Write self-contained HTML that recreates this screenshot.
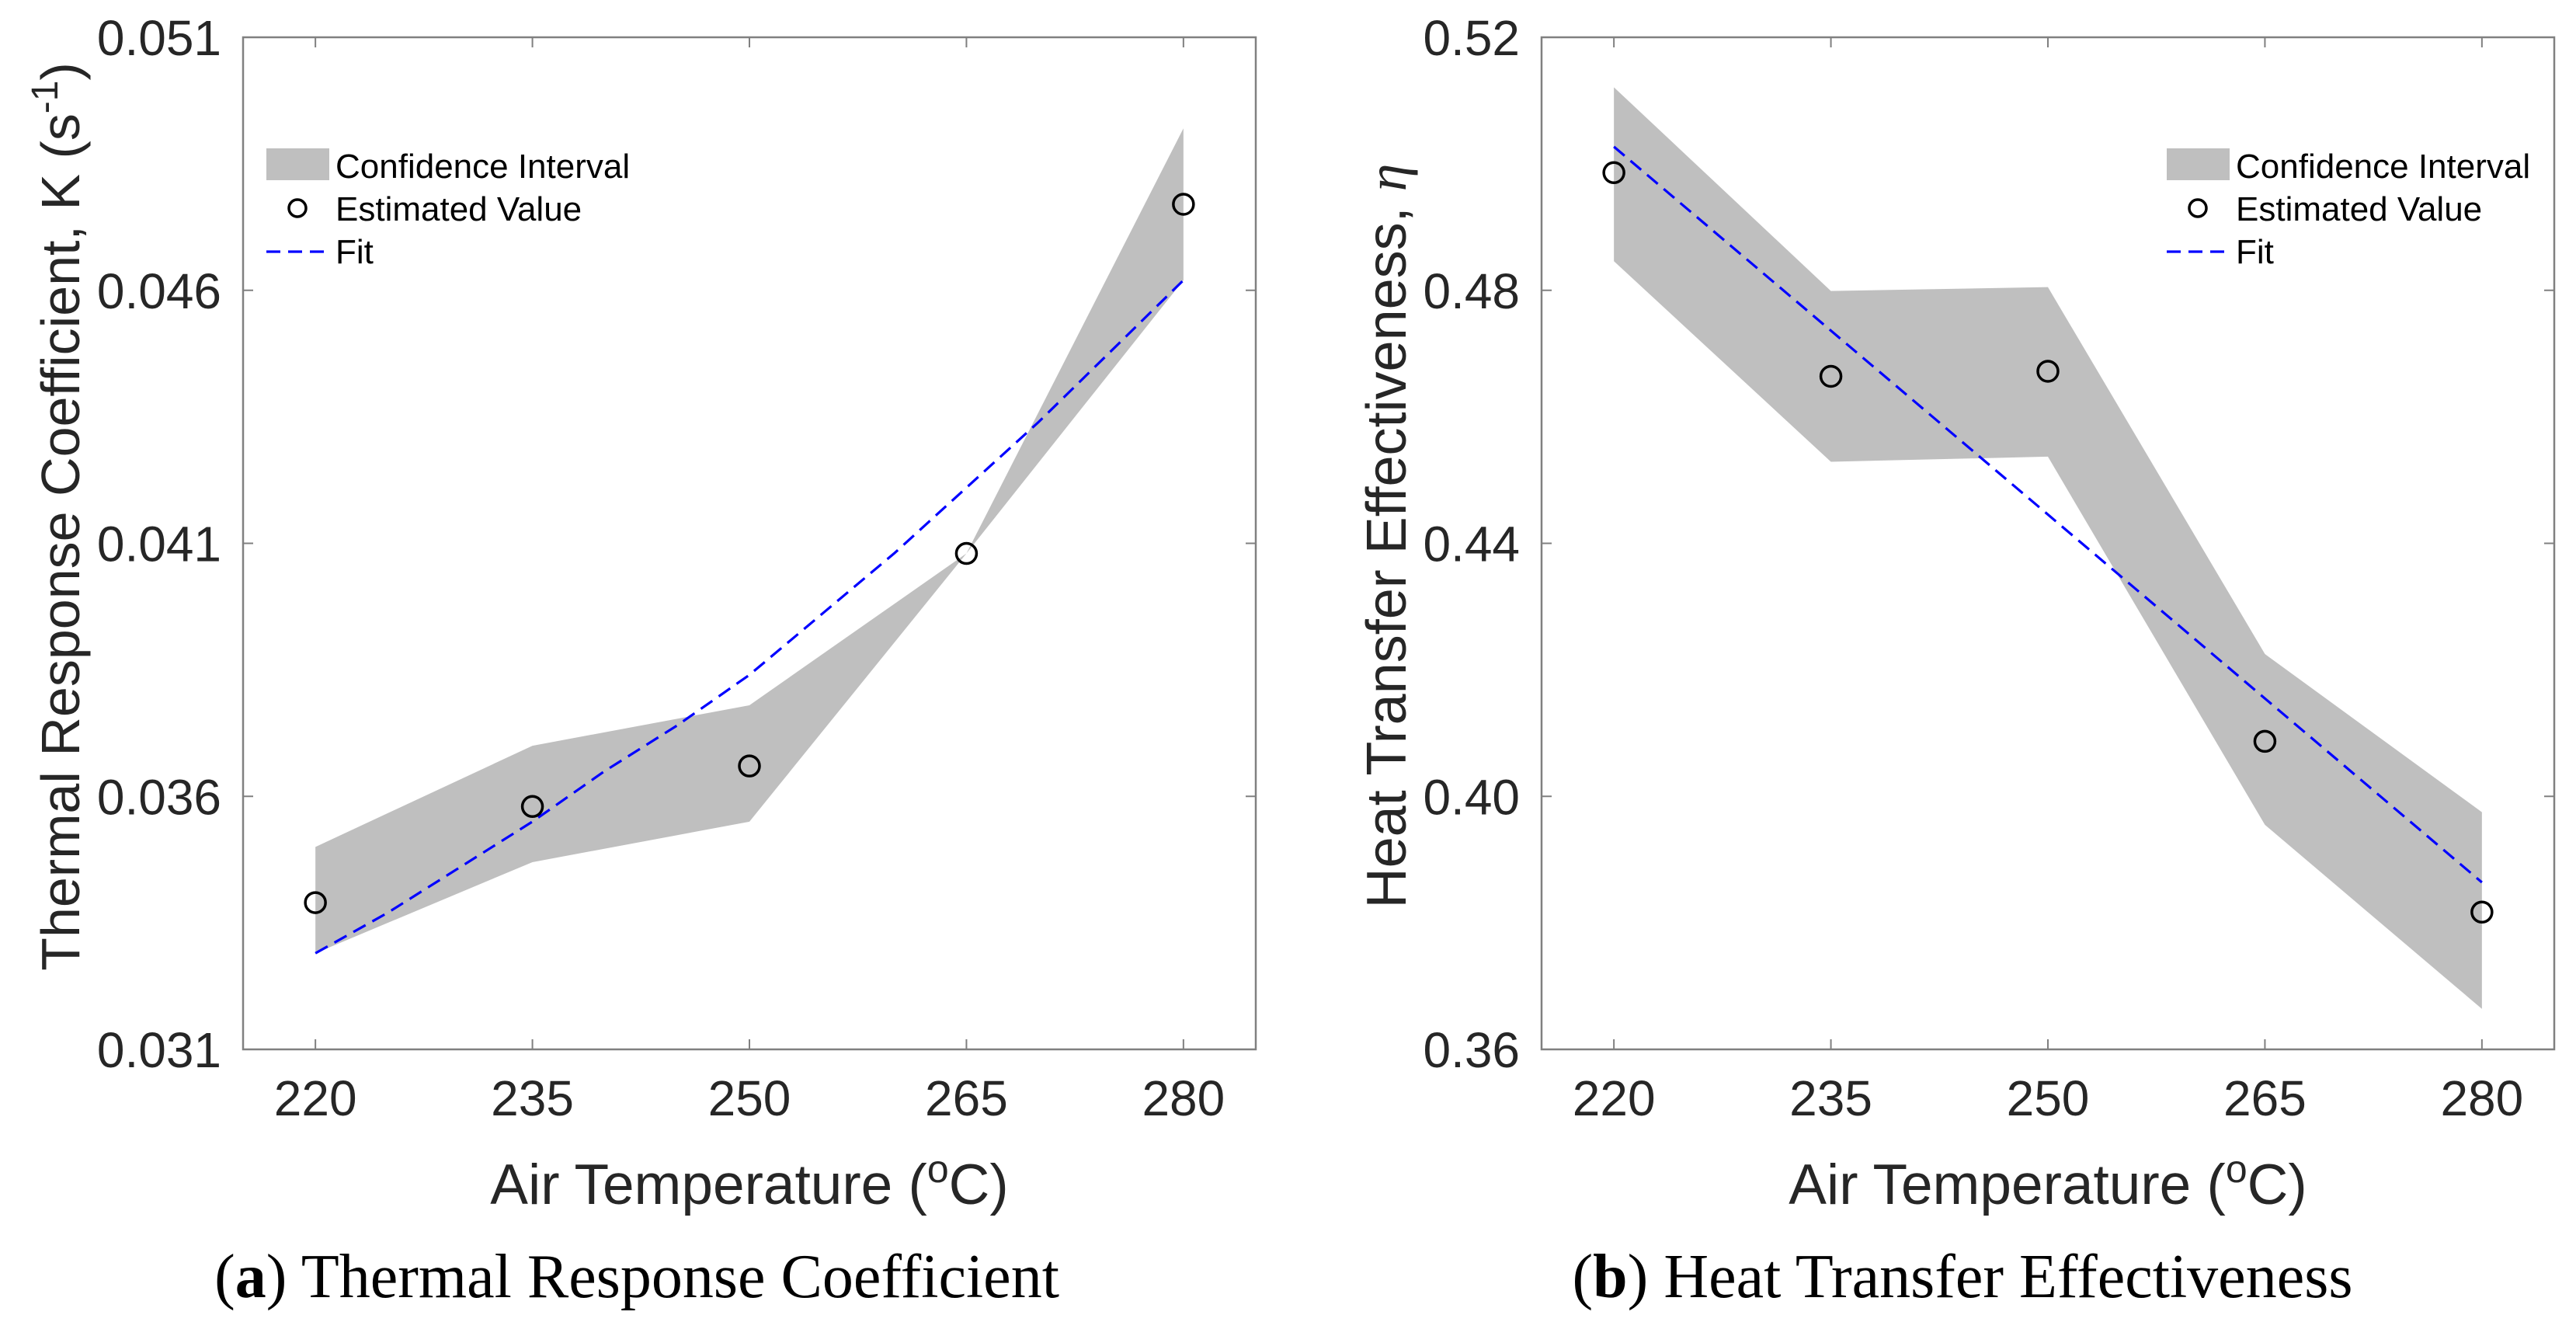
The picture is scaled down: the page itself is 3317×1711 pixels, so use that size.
<!DOCTYPE html>
<html><head><meta charset="utf-8"><style>
html,body{margin:0;padding:0;background:#fff;}
svg{display:block;}
text{font-family:"Liberation Sans",sans-serif;fill:#262626;}
.cap{font-family:"Liberation Serif",serif;fill:#000;}
</style></head><body>
<svg id="fig" width="3317" height="1711" viewBox="0 0 3317 1711" xmlns="http://www.w3.org/2000/svg">
<g id="chartA"></g>
<g id="chartB"></g>
<text class="cap" x="820" y="1670" font-size="80" text-anchor="middle">(<tspan font-weight="bold">a</tspan>) Thermal Response Coefficient</text>
<text class="cap" x="2527" y="1670" font-size="80" text-anchor="middle">(<tspan font-weight="bold">b</tspan>) Heat Transfer Effectiveness</text>
</svg>
<script>
const temps = [220, 235, 250, 265, 280];
const kEstimated = [0.0339, 0.0358, 0.0366, 0.0408, 0.0477];
const kUpper = [0.0350, 0.0370, 0.0378, 0.0408, 0.0492];
const kLower = [0.0329, 0.0347, 0.0355, 0.0408, 0.0462];
const kFitT = [220, 225, 230, 235, 240, 245, 250, 255, 260, 265, 270, 275, 280];
const kFit = [0.0329, 0.0337, 0.0346, 0.0355, 0.0365, 0.0374, 0.0384, 0.0396, 0.0408, 0.0421, 0.0434, 0.0448, 0.0462];
const kTicks = ["0.031", "0.036", "0.041", "0.046", "0.051"];
const etaEstimated = [0.4986, 0.4664, 0.4672, 0.4087, 0.3817];
const etaUpper = [0.5121, 0.4799, 0.4805, 0.4225, 0.3975];
const etaLower = [0.4846, 0.4529, 0.4537, 0.3955, 0.3664];
const etaFitT = [220, 280];
const etaFit = [0.5027, 0.3864];
const etaTicks = ["0.36", "0.40", "0.44", "0.48", "0.52"];
const xTicks = ["220", "235", "250", "265", "280"];

const NS = "http://www.w3.org/2000/svg";
function mk(parent, tag, attrs) {
  const e = document.createElementNS(NS, tag);
  for (const k in attrs) e.setAttribute(k, attrs[k]);
  parent.appendChild(e);
  return e;
}

function draw(g, o) {
  const L = o.left, R = o.left + 1304, T = 48, B = 1351;
  const xs = v => L + (v - 215) / 70 * (R - L);
  const ys = v => B - (v - o.ymin) / (o.ymax - o.ymin) * (B - T);
  let d = "";
  temps.forEach((t, i) => { d += (i ? "L" : "M") + xs(t) + "," + ys(o.upper[i]); });
  for (let i = temps.length - 1; i >= 0; i--) d += "L" + xs(temps[i]) + "," + ys(o.lower[i]);
  const band = mk(g, "path", {d: d + "Z", fill: "#bfbfbf", stroke: "none"});
  
  
  let fd = "";
  o.fitT.forEach((t, i) => { fd += (i ? "L" : "M") + xs(t) + "," + ys(o.fit[i]); });
  const fit = mk(g, "path", {d: fd, fill: "none", stroke: "#0000ff", "stroke-width": 3.2, "stroke-dasharray": "18 10"});
  
  
  temps.forEach((t, i) => {
    const c = mk(g, "circle", {cx: xs(t), cy: ys(o.est[i]), r: 13, fill: "none", stroke: "#000", "stroke-width": 3.5});
    
    
  });
  const box = mk(g, "rect", {x: L, y: T, width: R - L, height: B - T, fill: "none", stroke: "#808080", "stroke-width": 2.5});
  
  
  xTicks.forEach((lab, i) => {
    const x = xs(+lab);
    mk(g, "line", {x1: x, x2: x, y1: B, y2: B - 13, stroke: "#808080", "stroke-width": 2});
    mk(g, "line", {x1: x, x2: x, y1: T, y2: T + 13, stroke: "#808080", "stroke-width": 2});
    const tx = mk(g, "text", {x: x, y: 1436, "font-size": 64, "text-anchor": "middle"});
    tx.textContent = lab;
    
    
  });
  o.ticks.forEach(lab => {
    const y = ys(+lab);
    mk(g, "line", {x1: L, x2: L + 13, y1: y, y2: y, stroke: "#808080", "stroke-width": 2});
    mk(g, "line", {x1: R, x2: R - 13, y1: y, y2: y, stroke: "#808080", "stroke-width": 2});
    const tx = mk(g, "text", {x: L - 28, y: y + 23, "font-size": 64, "text-anchor": "end"});
    tx.textContent = lab;
    
    
  });
  const xl = mk(g, "text", {x: (L + R) / 2, y: 1550, "font-size": 73, "text-anchor": "middle"});
  xl.innerHTML = 'Air Temperature (<tspan dy="-28" font-size="50">o</tspan><tspan dy="28">C)</tspan>';
  
  
  const yl = mk(g, "text", {x: 0, y: 0, "font-size": o.ylsize, "text-anchor": "middle", transform: "translate(" + o.ylx + "," + o.yly + ") rotate(-90)"});
  yl.innerHTML = o.ylabel;
  
  
  const lx = o.legX;
  const lg = mk(g, "g", {});
  
  
  mk(lg, "rect", {x: lx, y: 191, width: 81, height: 41, fill: "#bfbfbf"});
  mk(lg, "circle", {cx: lx + 40, cy: 268, r: 11, fill: "none", stroke: "#000", "stroke-width": 3.5});
  mk(lg, "line", {x1: lx, x2: lx + 81, y1: 324, y2: 324, stroke: "#0000ff", "stroke-width": 3.2, "stroke-dasharray": "18 10"});
  ["Confidence Interval", "Estimated Value", "Fit"].forEach((s, i) => {
    const t = mk(lg, "text", {x: lx + 89, y: 229 + i * 55, "font-size": 44});
    t.style.fill = "#000";
    t.textContent = s;
    
    
  });
}

draw(document.getElementById("chartA"), {
  left: 313, ymin: 0.031, ymax: 0.051, est: kEstimated, upper: kUpper, lower: kLower,
  fitT: kFitT, fit: kFit, ticks: kTicks, ylx: 102, yly: 665, ylsize: 70, legX: 343,
  ylabel: 'Thermal Response Coefficient, K (s<tspan dy="-28" font-size="48">-1</tspan><tspan dy="28">)</tspan>'
});
draw(document.getElementById("chartB"), {
  left: 1985, ymin: 0.36, ymax: 0.52, est: etaEstimated, upper: etaUpper, lower: etaLower,
  fitT: etaFitT, fit: etaFit, ticks: etaTicks, ylx: 1810, yly: 690, ylsize: 72, legX: 2790,
  ylabel: 'Heat Transfer Effectiveness, <tspan font-family="Liberation Serif, serif" font-style="italic">η</tspan>'
});
</script>
</body></html>
